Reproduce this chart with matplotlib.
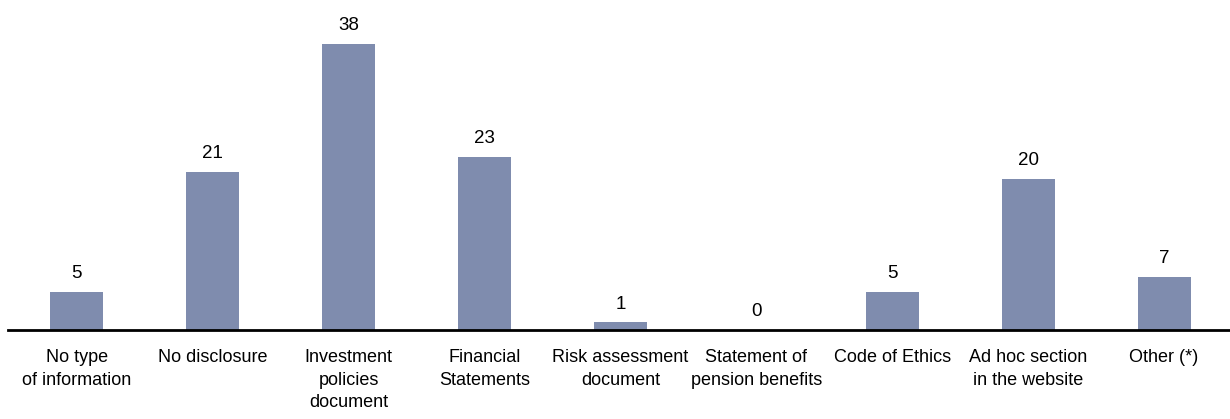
import matplotlib.pyplot as plt
import numpy as np

# categories and counts
categories = [
    "No type\nof information",
    "No disclosure",
    "Investment\npolicies\ndocument",
    "Financial\nStatements",
    "Risk assessment\ndocument",
    "Statement of\npension benefits",
    "Code of Ethics",
    "Ad hoc section\nin the website",
    "Other (*)",
]
counts = [5, 21, 38, 23, 1, 0, 5, 20, 7]

plt.rcParams["font.family"] = ["Liberation Sans", "DejaVu Sans"]

fig = plt.figure(figsize=(12.3, 4.19), dpi=100)
ax = fig.add_axes([8 / 1230, 89 / 419, 1222 / 1230, 330 / 419])

x = np.arange(len(categories))
bars = ax.bar(x, counts, width=0.39, color="#7f8cae")

for xi, v in zip(x, counts):
    ax.annotate(str(v), (xi, v), xytext=(0, 10), textcoords="offset points",
                ha="center", va="baseline", fontsize=13.5)

ax.set_xlim(-0.507, 8.485)
ax.set_ylim(0, 43.8)
ax.set_xticks(x)
ax.set_xticklabels(categories, fontsize=13, linespacing=1.42)
ax.tick_params(axis="x", length=0, pad=14)
ax.set_yticks([])
for side in ["top", "right", "left"]:
    ax.spines[side].set_visible(False)
ax.spines["bottom"].set_linewidth(2)
ax.spines["bottom"].set_color("black")

fig.savefig("out.png", dpi=100)
